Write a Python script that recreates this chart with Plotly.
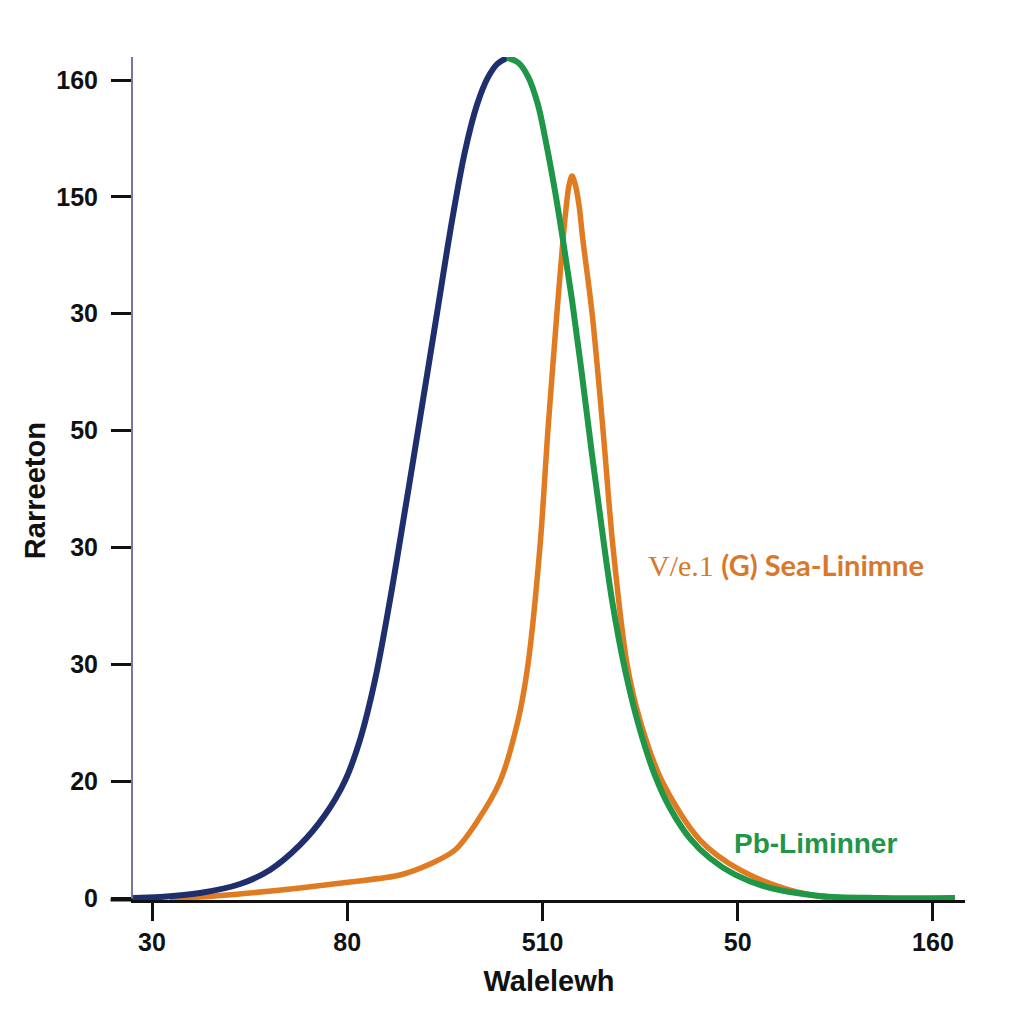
import plotly.graph_objects as go

# ---- data (axis units: tick index positions) ----
x_ticks_pos = [0, 1, 2, 3, 4]
x_tick_labels = ["30", "80", "510", "50", "160"]
y_ticks_pos = [0, 1, 2, 3, 4, 5, 6, 7]
y_tick_labels = ["0", "20", "30", "30", "50", "30", "150", "160"]

blue_x = [-0.097, 0.041, 0.246, 0.451, 0.604, 0.758, 0.886, 0.988, 1.065, 1.142, 1.219,
          1.296, 1.373, 1.460, 1.537, 1.603, 1.665, 1.720, 1.770, 1.818]
blue_y = [0, 0.009, 0.043, 0.120, 0.240, 0.454, 0.710, 1.001, 1.352, 1.865, 2.550,
          3.320, 4.107, 5.006, 5.800, 6.390, 6.790, 7.020, 7.140, 7.188]

green_x = [1.818, 1.875, 1.926, 1.975, 2.020, 2.062, 2.105, 2.151, 2.202, 2.254, 2.305,
           2.356, 2.423, 2.499, 2.576, 2.653, 2.755, 2.858, 2.986, 3.165, 3.421, 3.729, 4.113]
green_y = [7.19, 7.15, 7.03, 6.80, 6.45, 6.07, 5.63, 5.12, 4.48, 3.79, 3.15,
           2.55, 1.95, 1.44, 1.05, 0.77, 0.51, 0.34, 0.20, 0.086, 0.017, 0, 0]

orange_x = [0.092, 0.246, 0.502, 0.758, 1.014, 1.270, 1.424, 1.552, 1.670, 1.783, 1.875,
            1.926, 1.987, 2.028, 2.074, 2.105, 2.120, 2.136, 2.151, 2.166, 2.187, 2.207,
            2.254, 2.310, 2.361, 2.433, 2.499, 2.612, 2.807, 3.012, 3.268, 3.472]
orange_y = [0, 0.009, 0.043, 0.086, 0.137, 0.197, 0.291, 0.411, 0.667, 1.001, 1.523,
            2.002, 3.004, 4.005, 5.006, 5.631, 5.890, 6.100, 6.178, 6.118, 5.930, 5.631,
            5.006, 4.005, 3.004, 2.002, 1.523, 1.001, 0.496, 0.240, 0.068, 0]

BLUE = "#1f2f6e"
GREEN = "#1f9648"
ORANGE = "#e07b22"
FONT = "Liberation Sans, Arial, sans-serif"

fig = go.Figure()
fig.add_trace(go.Scatter(x=orange_x, y=orange_y, mode="lines",
                         line=dict(color=ORANGE, width=5.5, shape="spline", smoothing=0.9)))
fig.add_trace(go.Scatter(x=blue_x, y=blue_y, mode="lines",
                         line=dict(color=BLUE, width=6, shape="spline", smoothing=1.0)))
fig.add_trace(go.Scatter(x=green_x, y=green_y, mode="lines",
                         line=dict(color=GREEN, width=6, shape="spline", smoothing=1.0)))

fig.update_layout(
    width=1024, height=1024,
    margin=dict(l=125, r=67, t=49, b=132),
    paper_bgcolor="white", plot_bgcolor="white",
    showlegend=False,
    font=dict(family=FONT, color="#111111"),
)
fig.update_xaxes(
    range=[-0.0973, 4.164], showgrid=False, zeroline=False,
    tickvals=x_ticks_pos, ticktext=x_tick_labels,
    tickfont=dict(size=25, family=FONT, color="#111111", weight="bold"),
    showline=True, linecolor="#111111", linewidth=3,
    ticks="outside", ticklen=18, tickwidth=3, tickcolor="#111111",
    title=dict(text="<b>Walelewh</b>", font=dict(size=29, family=FONT, color="#111111"), standoff=16),
)
fig.update_yaxes(
    range=[-0.017, 7.197], showgrid=False, zeroline=False,
    tickvals=y_ticks_pos, ticktext=y_tick_labels,
    tickfont=dict(size=25, family=FONT, color="#111111", weight="bold"),
    ticklabelstandoff=8,
    showline=True, linecolor="#7478a8", linewidth=2,
    ticks="outside", ticklen=20, tickwidth=3, tickcolor="#111111",
)
# y axis title placed as rotated text
fig.add_annotation(
    xref="paper", yref="paper", x=-0.118, y=0.486, xanchor="center", yanchor="middle",
    showarrow=False, textangle=-90, text="<b>Rarreeton</b>",
    font=dict(size=29, family=FONT, color="#111111"),
)
# extension of the x axis line to the left of the y axis
fig.add_shape(type="line", xref="paper", yref="paper", x0=-0.027, x1=0, y0=0, y1=0,
              line=dict(color="#111111", width=3))

fig.add_annotation(
    xref="x", yref="y", x=2.53, y=2.85, xanchor="left", yanchor="middle", showarrow=False,
    text="<span style='font-family:Liberation Serif, serif;font-size:30px'>V/e.1</span>"
         " <b>(G) Sea-Linimne</b>",
    font=dict(size=29, family="Lato, Open Sans, sans-serif", color="#d9782a"),
)
fig.add_annotation(
    xref="x", yref="y", x=2.97, y=0.47, xanchor="left", yanchor="middle", showarrow=False,
    text="<b>Pb-Liminner</b>",
    font=dict(size=28, family=FONT, color=GREEN),
)

fig.write_html("out.html")
